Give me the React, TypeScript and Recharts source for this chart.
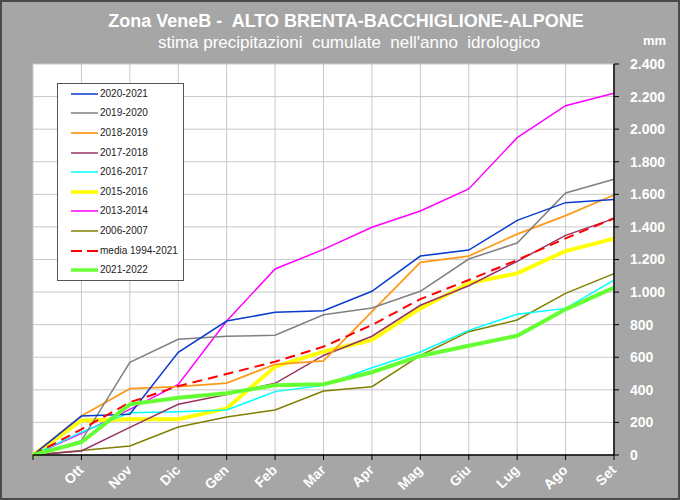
import { CartesianGrid, Legend, Line, LineChart, XAxis, YAxis } from 'recharts';

const FONT = '"Liberation Sans", Arial, Helvetica, sans-serif';

const months = ['', 'Ott', 'Nov', 'Dic', 'Gen', 'Feb', 'Mar', 'Apr', 'Mag', 'Giu', 'Lug', 'Ago', 'Set'];
const yTicks = [0, 200, 400, 600, 800, 1000, 1200, 1400, 1600, 1800, 2000, 2200, 2400];

const y2020_2021 = [0, 239, 250, 630, 822, 876, 886, 1005, 1221, 1258, 1440, 1549, 1569];
const y2019_2020 = [0, 88, 569, 710, 729, 735, 861, 902, 1005, 1203, 1301, 1608, 1692];
const y2018_2019 = [0, 240, 407, 420, 441, 557, 578, 880, 1183, 1221, 1356, 1469, 1596];
const y2017_2018 = [0, 25, 170, 311, 372, 440, 611, 729, 919, 1039, 1189, 1348, 1451];
const y2016_2017 = [0, 140, 260, 266, 276, 389, 428, 536, 632, 765, 864, 900, 1074];
const y2015_2016 = [0, 212, 219, 219, 286, 542, 634, 706, 900, 1054, 1115, 1252, 1328];
const y2013_2014 = [0, 133, 280, 433, 822, 1142, 1262, 1398, 1498, 1633, 1948, 2144, 2220];
const y2006_2007 = [0, 27, 55, 172, 233, 276, 393, 419, 611, 757, 829, 992, 1113];
const media1994_2021 = [0, 158, 323, 423, 497, 573, 665, 798, 957, 1074, 1197, 1330, 1453];
const y2021_2022 = [0, 78, 311, 352, 379, 428, 434, 508, 608, 671, 732, 894, 1027];

type Serie = { key: string; name: string; values: number[]; color: string; width: number; dash?: string };

// legend order
const series: Serie[] = [
  { key: 's2020', name: '2020-2021', values: y2020_2021, color: '#0a3ccf', width: 1.5 },
  { key: 's2019', name: '2019-2020', values: y2019_2020, color: '#808080', width: 1.5 },
  { key: 's2018', name: '2018-2019', values: y2018_2019, color: '#ff9a1a', width: 1.75 },
  { key: 's2017', name: '2017-2018', values: y2017_2018, color: '#993366', width: 1.5 },
  { key: 's2016', name: '2016-2017', values: y2016_2017, color: '#00ffff', width: 1.5 },
  { key: 's2015', name: '2015-2016', values: y2015_2016, color: '#ffff00', width: 4 },
  { key: 's2013', name: '2013-2014', values: y2013_2014, color: '#ff00ff', width: 1.5 },
  { key: 's2006', name: '2006-2007', values: y2006_2007, color: '#808000', width: 1.5 },
  { key: 'media', name: 'media 1994-2021', values: media1994_2021, color: '#ff0000', width: 2, dash: '10 6' },
  { key: 's2021', name: '2021-2022', values: y2021_2022, color: '#66ff33', width: 4 },
];

const drawOrder = ['s2006', 's2013', 's2015', 's2016', 's2017', 's2018', 's2019', 's2020', 'media', 's2021'];

const rows = months.map((m, i) => {
  const row: Record<string, string | number> = { m };
  series.forEach((s) => {
    row[s.key] = s.values[i];
  });
  return row;
});

const fmt = (v: number) => String(v).replace(/\B(?=(\d{3})+(?!\d))/g, '.');

function MonthTick({ x, y, payload }: any) {
  return (
    <g transform={`translate(${x + 3},${y + 9}) rotate(-45)`}>
      <text x={0} y={0} textAnchor="end" fill="#fff" fontSize={14} fontWeight="bold" fontFamily={FONT}>
        {payload.value}
      </text>
    </g>
  );
}

function LegendBox() {
  return (
    <div
      style={{
        width: 127,
        height: 198,
        boxSizing: 'border-box',
        border: '1px solid #555',
        background: '#fff',
        fontFamily: FONT,
      }}
    >
      {series.map((s) => (
        <div key={s.key} style={{ display: 'flex', alignItems: 'center', height: 19.6, paddingLeft: 13 }}>
          <svg width={27} height={8} style={{ display: 'block' }}>
            <line
              x1={0}
              x2={27}
              y1={4}
              y2={4}
              stroke={s.color}
              strokeWidth={s.width === 4 ? 3.5 : s.width}
              strokeDasharray={s.dash ? '11 5' : undefined}
            />
          </svg>
          <span style={{ marginLeft: 2, fontSize: 10, color: '#222', lineHeight: '10px' }}>{s.name}</span>
        </div>
      ))}
    </div>
  );
}

export default function App() {
  return (
    <div
      style={{
        position: 'absolute',
        left: 0,
        top: 0,
        width: 680,
        height: 500,
        boxSizing: 'border-box',
        border: '2px solid #4a4a4a',
        background: '#a6a6a6',
        fontFamily: FONT,
      }}
    >
      <LineChart width={676} height={496} data={rows} margin={{ top: 62, right: 4, bottom: 3, left: 31 }}>
        <CartesianGrid stroke="#c8c8c8" fill="#fff" fillOpacity={1} />
        <XAxis
          dataKey="m"
          interval={0}
          height={40}
          axisLine={{ stroke: '#000', strokeWidth: 1.5 }}
          tickLine={{ stroke: '#000' }}
          tickSize={5}
          tick={<MonthTick />}
        />
        <YAxis
          orientation="right"
          domain={[0, 2400]}
          ticks={yTicks}
          interval={0}
          width={60}
          axisLine={{ stroke: '#000', strokeWidth: 1.5 }}
          tickLine={{ stroke: '#000' }}
          tickSize={5}
          tickMargin={11}
          tickFormatter={fmt}
          tick={{ fill: '#fff', fontSize: 14, fontWeight: 'bold', fontFamily: FONT }}
        />
        <Legend
          layout="vertical"
          align="center"
          verticalAlign="middle"
          wrapperStyle={{ left: 55, top: 81, width: 127, height: 198 }}
          content={() => <LegendBox />}
        />
        {drawOrder.map((k) => {
          const s = series.find((x) => x.key === k)!;
          return (
            <Line
              key={s.key}
              type="linear"
              dataKey={s.key}
              name={s.name}
              stroke={s.color}
              strokeWidth={s.width}
              strokeDasharray={s.dash}
              dot={false}
              activeDot={false}
              isAnimationActive={false}
            />
          );
        })}
      </LineChart>
      <div
        style={{
          position: 'absolute',
          left: 344,
          top: 8,
          transform: 'translateX(-50%)',
          whiteSpace: 'pre',
          color: '#fff',
          fontWeight: 'bold',
          fontSize: 18,
          lineHeight: '22px',
        }}
      >
        {'Zona VeneB -  ALTO BRENTA-BACCHIGLIONE-ALPONE'}
      </div>
      <div
        style={{
          position: 'absolute',
          left: 347,
          top: 30,
          transform: 'translateX(-50%)',
          whiteSpace: 'pre',
          color: '#fff',
          fontSize: 17,
          lineHeight: '22px',
        }}
      >
        {"stima precipitazioni  cumulate  nell'anno  idrologico"}
      </div>
      <div
        style={{
          position: 'absolute',
          left: 641,
          top: 31,
          color: '#fff',
          fontWeight: 'bold',
          fontSize: 13,
          lineHeight: '16px',
        }}
      >
        mm
      </div>
    </div>
  );
}
